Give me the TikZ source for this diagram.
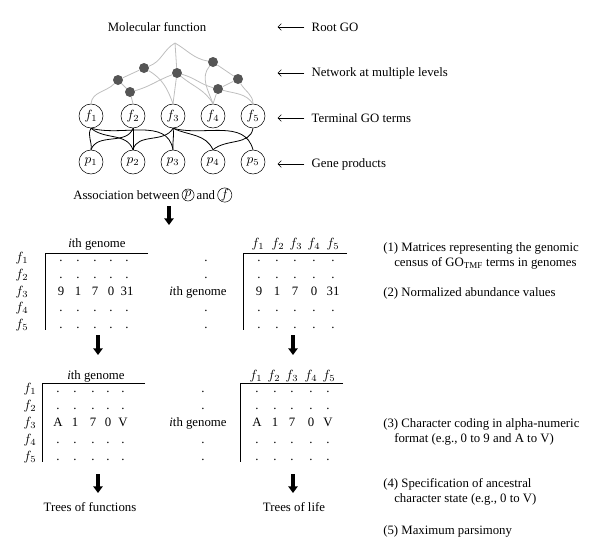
\documentclass[tikz,border=0pt]{standalone}
\usepackage{fontspec}
\setmainfont{Liberation Serif}
\usetikzlibrary{arrows.meta,positioning}
\definecolor{netgray}{RGB}{190,190,190}
\definecolor{hubgray}{RGB}{85,85,85}

\begin{document}
\begin{tikzpicture}[x=0.75pt, y=-0.75pt, font=\fontsize{9.6}{11.5}\selectfont,
        term/.style={draw, circle, minimum size=18pt, inner sep=0pt},
        mini/.style={draw, circle, minimum size=9pt, inner sep=0pt},
        hub/.style={circle, fill=hubgray, minimum size=7.5pt, inner sep=0pt},
        net/.style={draw=netgray, line width=0.6pt},
        link/.style={draw=black, line width=0.6pt},
        cell/.style={anchor=base, inner sep=0pt},
        note/.style={anchor=base west, inner sep=0pt},
        bigarrow/.style={-{Triangle[width=7pt,length=5pt]}, line width=2.4pt},
        pointer/.style={-{Straight Barb[length=2.5pt,width=5pt]}, thin}
    ]
        \useasboundingbox (0,0) rectangle (600,558);

        % 1. The GO network
        \node (root) at (157,27) {Molecular function};
        \coordinate (top) at (175,43);
        \node[hub] (ha) at (144,68) {};
        \node[hub] (hb) at (118,80) {};
        \node[hub] (hc) at (130,92) {};
        \node[hub] (hd) at (177,73) {};
        \node[hub] (he) at (213,62) {};
        \node[hub] (hf) at (238,79) {};
        \node[hub] (hg) at (218,89) {};

        \node[term] (f1) at (91,116) {$f_1$};
        \node[term] (f2) at (133,116) {$f_2$};
        \node[term] (f3) at (173,116) {$f_3$};
        \node[term] (f4) at (213,116) {$f_4$};
        \node[term] (f5) at (253,116) {$f_5$};
        \node[term] (p1) at (91,162) {$p_1$};
        \node[term] (p2) at (133,162) {$p_2$};
        \node[term] (p3) at (173,162) {$p_3$};
        \node[term] (p4) at (213,162) {$p_4$};
        \node[term] (p5) at (253,162) {$p_5$};

        \draw[net] (top) to[out=-150, in=20] (ha);
        \draw[net] (top) -- (hd);
        \draw[net] (top) to[out=-30, in=170] (he);
        \draw[net] (ha) -- (hb);
        \draw[net] (hb) -- (hc);
        \draw[net] (hb) to[out=-135, in=85] (f1.north);
        \draw[net] (hc) -- (f2.north);
        \draw[net] (hc) to[out=15, in=-160] (hd);
        \draw[net] (ha) to[out=-30, in=110] (f3.north);
        \draw[net] (hd) -- (f3.north);
        \draw[net] (hd) to[out=-15, in=165] (hg);
        \draw[net] (hd) to[out=-40, in=120] (f4.north);
        \draw[net] (he) to[out=-130, in=110] (f4.north);
        \draw[net] (he) -- (hf);
        \draw[net] (hf) -- (hg);
        \draw[net] (hf) to[out=-60, in=90] (f5.north);
        \draw[net] (hg) -- (f4.north);
        \draw[net] (hg) to[out=-15, in=125] (f5.north);

        % 2. Terms to gene products
        \draw[link] (f1.south) to[out=-120, in=80] (p1.north);
        \draw[link] (f1.south) to[out=-40, in=110] (p2.north);
        \draw[link] (f1.south) to[out=-15, in=100] (p3.north);
        \draw[link] (f2.south) to[out=-110, in=70] (p1.north);
        \draw[link] (f2.south) -- (p2.north);
        \draw[link] (f3.south) to[out=-120, in=75] (p2.north);
        \draw[link] (f3.south) to[out=-80, in=95] (p3.north);
        \draw[link] (f3.south) to[out=-25, in=115] (p4.north);
        \draw[link] (f3.south) to[out=-15, in=105] (p5.north);
        \draw[link] (f5.south) to[out=-100, in=40] (p4.north);

        % Level labels on the right
        \node[anchor=west] (lroot) at (307,27) {Root GO};
        \node[anchor=west] (lnet) at (307,73) {Network at multiple levels};
        \node[anchor=west] (lterm) at (307,118) {Terminal GO terms};
        \node[anchor=west] (lgene) at (307,164) {Gene products};
        \draw[pointer] ([xshift=-2pt]lroot.west) -- ++(-20pt,0);
        \draw[pointer] ([xshift=-2pt]lnet.west) -- ++(-20pt,0);
        \draw[pointer] ([xshift=-2pt]lterm.west) -- ++(-20pt,0);
        \draw[pointer] ([xshift=-2pt]lgene.west) -- ++(-20pt,0);

        % Association line
        \node[anchor=west, inner sep=0pt] (assoc) at (73,195) {Association between};
        \node[mini, right=1.5pt of assoc] (pc) {$p$};
        \node[inner sep=0pt, right=1.5pt of pc] (andw) {and};
        \node[mini, right=1.5pt of andw] (fc) {$f$};

        \coordinate (a0s) at (169,206);
        \coordinate (a0e) at (169,225);
        \draw[bigarrow] (a0s) -- (a0e);

        % 3. Census matrices
        \node[cell] (hdra) at (97,247) {\textit{i}th genome};
        \draw (148,253) -- (45,253) -- (45,330);
        \foreach \y [count=\r] in {261,278,295,311,328}
            \node[cell] (ra\r) at (22,\y) {$f_{\r}$};
        \foreach \x [count=\c] in {61,78,95,111,127}
            \foreach \y [count=\r] in {261,278,311,328}
                \node[cell] (da\c\r) at (\x,\y) {.};
        \foreach \x/\v [count=\c] in {61/9,78/1,95/7,111/0,127/31}
            \node[cell] (va\c) at (\x,295) {\v};

        \node[cell] (mida) at (198,295) {\textit{i}th genome};
        \foreach \y [count=\r] in {261,278,311,328}
            \node[cell] (ma\r) at (206,\y) {.};

        \foreach \x [count=\c] in {258,278,296,314,333}
            \node[cell] (ha\c) at (\x,247) {$f_{\c}$};
        \draw (347,253) -- (243,253) -- (243,330);
        \foreach \x [count=\c] in {259,277,295,314,333}
            \foreach \y [count=\r] in {261,278,311,328}
                \node[cell] (db\c\r) at (\x,\y) {.};
        \foreach \x/\v [count=\c] in {259/9,277/1,295/7,314/0,333/31}
            \node[cell] (vb\c) at (\x,295) {\v};

        \coordinate (a1s) at (98,335);
        \coordinate (a1e) at (98,355);
        \coordinate (a2s) at (293,335);
        \coordinate (a2e) at (293,355);
        \draw[bigarrow] (a1s) -- (a1e);
        \draw[bigarrow] (a2s) -- (a2e);

        % 4. Coded matrices
        \node[cell] (hdrc) at (96,379) {\textit{i}th genome};
        \draw (145,383) -- (42,383) -- (42,462);
        \foreach \y [count=\r] in {392,409,426,443,460}
            \node[cell] (rc\r) at (30,\y) {$f_{\r}$};
        \foreach \x [count=\c] in {58,75,93,108,123}
            \foreach \y [count=\r] in {392,409,443,460}
                \node[cell] (dc\c\r) at (\x,\y) {.};
        \foreach \x/\v [count=\c] in {58/A,75/1,93/7,108/0,123/V}
            \node[cell] (vc\c) at (\x,426) {\v};

        \node[cell] (midc) at (198,426) {\textit{i}th genome};
        \foreach \y [count=\r] in {392,409,443,460}
            \node[cell] (mc\r) at (203,\y) {.};

        \foreach \x [count=\c] in {256,274,292,311,329}
            \node[cell] (hd\c) at (\x,379) {$f_{\c}$};
        \draw (343,383) -- (240,383) -- (240,462);
        \foreach \x [count=\c] in {257,275,292,311,328}
            \foreach \y [count=\r] in {392,409,443,460}
                \node[cell] (dd\c\r) at (\x,\y) {.};
        \foreach \x/\v [count=\c] in {257/A,275/1,292/7,311/0,328/V}
            \node[cell] (vd\c) at (\x,426) {\v};

        \coordinate (a3s) at (98,474);
        \coordinate (a3e) at (98,493);
        \coordinate (a4s) at (293,474);
        \coordinate (a4e) at (293,493);
        \draw[bigarrow] (a3s) -- (a3e);
        \draw[bigarrow] (a4s) -- (a4e);

        \node (tfun) at (90,507) {Trees of functions};
        \node (tlife) at (294,507) {Trees of life};

        % 5. Steps
        \node[note] (s1) at (383,251) {(1) Matrices representing the genomic};
        \node[note] (s1b) at (394,266) {census of GO\textsubscript{TMF} terms in genomes};
        \node[note] (s2) at (383,296) {(2) Normalized abundance values};
        \node[note] (s3) at (383,427) {(3) Character coding in alpha-numeric};
        \node[note] (s3b) at (394,442) {format (e.g., 0 to 9 and A to V)};
        \node[note] (s4) at (383,487) {(4) Specification of ancestral};
        \node[note] (s4b) at (394,502) {character state (e.g., 0 to V)};
        \node[note] (s5) at (383,534) {(5) Maximum parsimony};

    \end{tikzpicture}
\end{document}
